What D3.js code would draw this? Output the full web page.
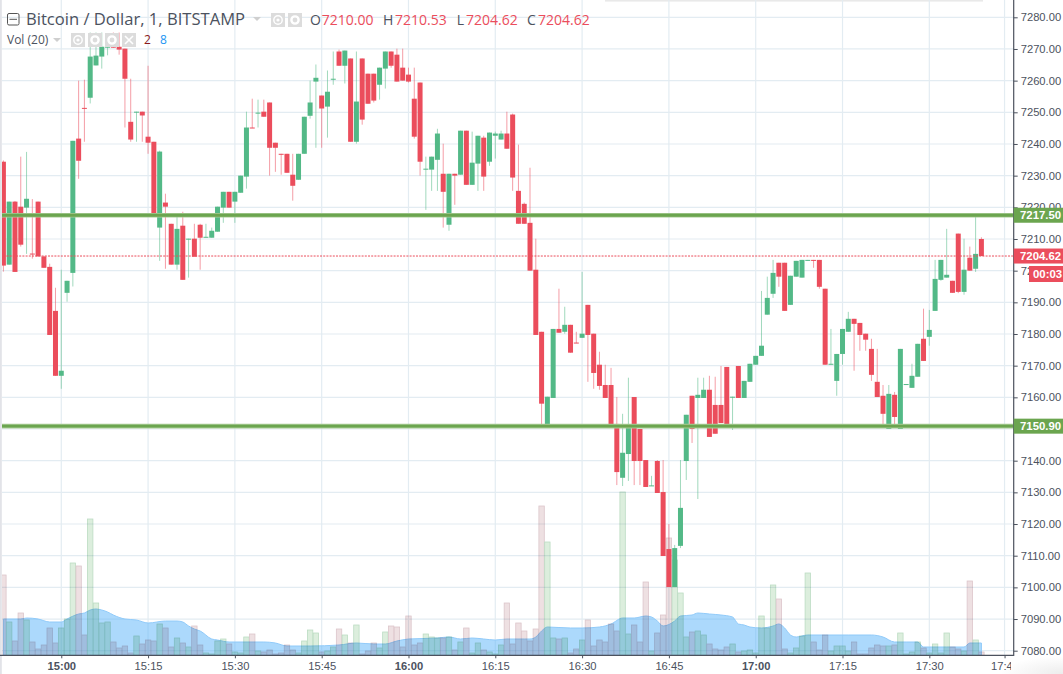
<!DOCTYPE html>
<html><head><meta charset="utf-8">
<script src="https://cdn.jsdelivr.net/npm/d3@7/dist/d3.min.js"></script>
<style>html,body{margin:0;padding:0;background:#fff;overflow:hidden}svg{display:block}</style>
</head><body><svg id="c" width="1063" height="674"></svg>
<script>
const opens=[7234.4,7201.9,7221.8,7220.2,7219.9,7205.4,7221.8,7204.5,7201.2,7187.3,7166.8,7193.0,7199.3,7241.7,7251.4,7254.6,7264.8,7267.6,7270.4,7274.2,
7270.7,7270.1,7247.0,7250.0,7250.2,7242.3,7240.7,7213.6,7221.5,7214.8,7201.9,7214.2,7209.9,7210.1,7214.5,7210.5,7210.4,7212.3,7219.9,7224.9,
7221.8,7224.6,7229.7,7245.2,7249.7,7250.2,7253.1,7240.4,7236.9,7236.9,7230.3,7228.7,7236.9,7248.9,7259.7,7255.3,7251.8,7260.4,7269.2,7264.7,
7267.0,7240.7,7267.0,7262.2,7262.2,7258.7,7263.8,7269.2,7268.2,7264.1,7261.9,7254.3,7259.4,7232.0,7231.9,7235.0,7230.6,7214.5,7230.6,7230.3,
7244.2,7227.1,7233.8,7242.0,7234.4,7242.6,7241.4,7243.3,7249.3,7225.2,7221.1,7215.1,7200.3,7180.7,7151.0,7159.8,7181.6,7180.7,7182.9,7177.3,
7178.8,7189.2,7180.1,7170.3,7163.9,7163.9,7151.6,7134.6,7142.1,7160.1,7150.0,7140.2,7132.0,7139.9,7130.1,7112.1,7100.1,7113.1,7139.9,7160.5,
7159.8,7159.8,7162.4,7157.6,7157.6,7169.6,7160.0,7169.9,7159.8,7164.9,7170.3,7173.1,7186.1,7192.7,7202.5,7202.5,7189.2,7198.1,7197.8,7203.2,
7203.4,7203.4,7194.3,7170.4,7165.2,7173.7,7180.7,7184.8,7183.5,7180.1,7175.3,7164.9,7160.5,7150.0,7160.8,7150.0,7164.0,7163.0,7166.5,7178.5,
7179.1,7187.3,7197.1,7197.8,7196.8,7211.7,7193.3,7204.1,7200.6,7210.0];
const highs=[7234.8,7221.8,7222.0,7236.0,7237.5,7222.6,7221.8,7204.5,7202.2,7194.6,7200.3,7196.8,7241.0,7260.0,7260.3,7275.2,7275.2,7275.2,7273.0,7275.2,
7275.2,7270.1,7260.6,7250.2,7250.2,7264.7,7240.7,7237.9,7224.3,7214.8,7217.3,7218.6,7210.1,7214.8,7214.8,7214.8,7213.6,7220.2,7224.9,7224.9,
7224.9,7230.0,7250.2,7254.3,7254.0,7254.0,7253.1,7240.4,7236.9,7236.9,7236.9,7236.9,7248.6,7260.0,7265.1,7255.3,7263.2,7269.2,7269.8,7269.5,
7267.0,7269.2,7267.0,7262.2,7262.2,7264.1,7269.2,7269.2,7270.1,7270.1,7264.1,7264.1,7259.4,7236.0,7236.0,7244.8,7240.1,7230.6,7230.6,7244.2,
7244.2,7243.9,7242.6,7242.6,7243.6,7243.9,7244.2,7250.2,7249.6,7239.8,7221.5,7232.5,7210.1,7180.7,7160.2,7181.6,7194.3,7188.6,7182.9,7180.7,
7199.6,7189.2,7180.1,7174.4,7170.3,7169.3,7160.1,7154.8,7166.2,7160.1,7150.0,7140.2,7135.2,7140.2,7140.2,7120.0,7113.4,7140.2,7154.5,7160.5,
7166.2,7166.2,7166.8,7166.5,7169.9,7169.6,7160.2,7169.9,7165.2,7170.6,7173.1,7193.6,7198.1,7203.4,7202.5,7202.5,7198.4,7203.1,7203.4,7203.4,
7203.4,7203.4,7194.3,7181.6,7173.7,7181.6,7187.0,7184.8,7183.5,7180.1,7178.5,7175.3,7163.9,7163.9,7161.7,7175.3,7164.2,7170.6,7176.9,7188.0,
7187.6,7203.4,7203.4,7213.2,7196.8,7211.7,7210.1,7207.6,7217.3,7210.53];
const lows=[7199.7,7201.9,7199.6,7207.6,7205.3,7203.8,7204.5,7200.9,7179.7,7166.8,7162.7,7190.2,7195.0,7229.0,7240.7,7252.8,7264.8,7263.8,7268.0,7270.4,
7268.2,7245.2,7240.7,7240.7,7240.7,7236.9,7217.3,7203.1,7200.6,7201.9,7200.3,7197.1,7197.8,7204.4,7200.3,7210.5,7210.4,7212.3,7215.1,7219.9,
7215.1,7224.6,7225.9,7245.0,7245.2,7248.6,7230.0,7231.2,7230.3,7230.9,7222.1,7228.7,7236.9,7248.0,7238.8,7238.8,7242.0,7258.7,7264.7,7259.1,
7240.7,7240.1,7246.1,7252.7,7253.1,7254.0,7257.5,7264.1,7259.7,7260.0,7259.4,7241.7,7230.0,7219.2,7225.2,7225.2,7213.6,7212.6,7220.8,7230.3,
7227.1,7227.1,7225.2,7225.2,7233.1,7235.4,7241.4,7238.5,7225.2,7214.8,7214.8,7200.0,7179.7,7151.3,7151.0,7159.8,7180.4,7180.1,7174.1,7177.1,
7178.8,7164.9,7162.7,7162.4,7159.8,7151.3,7132.3,7132.0,7133.6,7132.3,7132.3,7131.7,7132.0,7129.8,7109.9,7100.1,7100.1,7112.4,7133.9,7145.6,
7127.9,7159.8,7147.5,7148.5,7151.9,7150.4,7149.7,7159.8,7159.8,7164.9,7170.3,7173.1,7186.1,7191.4,7194.9,7187.3,7189.2,7198.1,7197.8,7203.2,
7200.9,7194.3,7170.3,7170.4,7160.5,7170.3,7180.7,7168.4,7174.7,7174.7,7165.2,7160.1,7150.4,7150.0,7150.4,7150.0,7164.0,7163.0,7166.5,7171.5,
7176.3,7187.3,7196.8,7197.8,7193.0,7192.9,7192.4,7200.0,7199.6,7204.62];
const closes=[7201.6,7221.8,7199.6,7208.2,7222.7,7205.2,7204.5,7200.9,7179.7,7166.8,7168.4,7196.8,7241.0,7234.7,7251.2,7267.6,7267.9,7270.7,7273.0,7270.4,
7269.8,7260.6,7241.4,7250.2,7249.0,7240.4,7217.3,7237.6,7220.2,7201.9,7213.2,7197.1,7210.1,7204.4,7210.4,7210.7,7212.6,7220.2,7224.9,7219.9,
7224.9,7230.0,7245.2,7245.0,7249.9,7248.6,7238.8,7238.8,7236.7,7230.9,7226.8,7236.9,7248.6,7253.1,7260.9,7251.2,7256.5,7260.6,7264.7,7269.5,
7240.7,7253.4,7247.7,7252.7,7253.7,7264.1,7269.2,7264.7,7259.7,7260.0,7259.7,7242.3,7234.4,7232.2,7236.0,7243.3,7224.9,7230.6,7230.0,7244.2,
7227.1,7234.1,7242.6,7229.7,7243.6,7243.3,7243.3,7238.5,7229.4,7214.8,7214.8,7200.0,7179.7,7158.0,7160.2,7181.6,7180.4,7182.9,7174.1,7177.1,
7180.1,7179.7,7167.7,7163.6,7159.8,7151.3,7136.4,7142.5,7150.4,7139.9,7139.9,7131.7,7132.2,7129.8,7109.9,7100.1,7112.4,7125.1,7154.5,7150.0,
7160.8,7162.4,7147.5,7148.5,7151.9,7150.4,7160.2,7159.8,7165.2,7170.6,7173.1,7176.3,7191.4,7199.3,7198.1,7187.3,7198.4,7203.1,7203.4,7203.4,
7203.2,7194.9,7170.3,7170.6,7173.7,7181.6,7184.8,7183.2,7179.7,7178.2,7167.1,7160.1,7154.8,7161.1,7153.8,7175.3,7164.2,7166.8,7176.9,7171.5,
7181.3,7197.4,7203.4,7198.7,7193.0,7193.3,7200.3,7200.0,7205.3,7204.62];
const volumes=[80,33,14,42,35,13,6,10,27,12,27,36,92,89,20,136,52,32,33,13,
7,9,2,19,11,15,14,31,27,8,17,12,8,29,10,2,1,14,16,11,
3,2,18,21,4,3,5,1,2,10,5,2,14,25,22,3,4,8,26,20,
12,30,1,4,12,7,23,29,28,8,39,10,12,21,18,17,17,18,5,13,
27,2,12,5,3,1,10,52,11,32,24,14,26,149,113,17,16,17,2,6,
15,35,9,15,13,31,24,163,21,30,13,73,4,22,40,117,95,62,18,23,
24,20,11,6,5,8,11,3,4,5,2,39,27,70,56,6,2,7,19,82,
13,5,20,4,9,9,4,13,1,1,7,10,9,9,10,22,1,3,13,7,
2,11,2,22,8,6,4,74,15,3];
const volumeMaBars=[0,3,4,6,8,10,11,13,14,15,16,17,18,19,21,23,25,28,30,31,32,33,34,36,37,39,45,47,49,53,58,61,64,66,68,70,75,77,79,81,83,85,87,90,91,92,93,94,98,100,103,105,107,109,111,112,113,114,116,117,119,120,122,124,126,127,128,129,131,133,134,135,136,137,139,142,146,150,152,154,156,158,159,163,166,167,169];
const volumeMa=[36,36,37,36,33,33,36,41,42,45,46,45,43,40,36,35,32,34,34,33,29,26,24,16,15,13,13,12,9,9,10,12,11,11,14,16,17,18,16,17,16,15,16,16,16,18,24,28,27,27,28,31,37,37,39,38,34,29,34,39,40,42,41,40,38,31,30,28,27,29,31,27,20,18,20,20,20,20,18,13,13,13,8,8,8,12,12];
const priceTicks=[7080,7090,7100,7110,7120,7130,7140,7150,7160,7170,7180,7190,7200,7210,7220,7230,7240,7250,7260,7270,7280];
const hiddenPriceLabels=[7150];
const timeTickBars=[10,25,40,55,70,85,100,115,130,145,160,173];
const timeTickLabels=["15:00","15:15","15:30","15:45","16:00","16:15","16:30","16:45","17:00","17:15","17:30","17:45"];
const levels=[7217.5,7150.9];
const levelLabels=["7217.50","7150.90"];
const lastPrice=7204.62;
const ohlcNames=["O","H","L","C"];
const ohlcValues=["7210.00","7210.53","7204.62","7204.62"];

const UP="#53b987",DOWN="#eb4d5c",LEVEL="#6ba54f",INK="#4c525e",GRID="#e3ecf2";
const AX=1013.7,AY=655.3;
const svg=d3.select("#c");
const x=d3.scaleLinear().domain([0,169]).range([3.4,981.4]);
const y=d3.scaleLinear().domain([7080,7280]).range([650.7,17.3]);
const v=d3.scaleLinear().domain([0,150]).range([655,505]);
const defs=svg.append("defs");
defs.append("clipPath").attr("id","p").append("rect").attr("x",2).attr("y",0).attr("width",AX-2).attr("height",AY);
const sg=defs.append("radialGradient").attr("id","corner").attr("cx",1).attr("cy",1).attr("r",1);
sg.append("stop").attr("offset",0).attr("stop-color","#ececec");
sg.append("stop").attr("offset",1).attr("stop-color","#ffffff");
svg.append("rect").attr("width",1063).attr("height",674).attr("fill","#fff");
svg.append("rect").attr("x",1000).attr("y",656).attr("width",63).attr("height",18).attr("fill","url(#corner)");
svg.append("rect").attr("x",0).attr("y",0).attr("width",1.8).attr("height",674).attr("fill","#e2e3e8");
svg.append("rect").attr("x",605).attr("y",0).attr("width",378).attr("height",1.6).attr("fill","#e9e9e9");

const plot=svg.append("g").attr("clip-path","url(#p)");
// grid
plot.append("g").selectAll("line").data(priceTicks).join("line")
 .attr("x1",0).attr("x2",AX).attr("y1",d=>y(d)).attr("y2",d=>y(d)).attr("stroke",GRID).attr("stroke-width",1.2);
plot.append("g").selectAll("line").data(timeTickBars).join("line")
 .attr("x1",d=>x(d)).attr("x2",d=>x(d)).attr("y1",0).attr("y2",AY).attr("stroke",GRID).attr("stroke-width",1.2);
// volume MA area
const area=d3.area().x(d=>x(d[0])).y0(AY).y1(d=>v(d[1])).curve(d3.curveMonotoneX);
plot.append("path").datum(d3.zip(volumeMaBars,volumeMa)).attr("d",area)
 .attr("fill","rgba(90,180,250,.5)").attr("stroke","#90caf9").attr("stroke-width",1);
// volume bars
plot.append("g").style("mix-blend-mode","multiply").selectAll("rect").data(volumes).join("rect")
 .attr("x",(d,i)=>x(i)-2.7).attr("width",5.4).attr("y",d=>v(d)).attr("height",d=>AY-v(d))
 .attr("fill",(d,i)=>closes[i]>=opens[i]?"#dceedd":"#eee0e2")
 .attr("stroke",(d,i)=>closes[i]>=opens[i]?"#bcdcc3":"#dcc6cb").attr("stroke-width",.8);
// wicks
plot.append("g").selectAll("line").data(opens).join("line")
 .attr("x1",(d,i)=>x(i)).attr("x2",(d,i)=>x(i)).attr("y1",(d,i)=>y(highs[i])).attr("y2",(d,i)=>y(lows[i]))
 .attr("stroke",(d,i)=>closes[i]>=opens[i]?UP:DOWN).attr("stroke-opacity",.55).attr("stroke-width",1);
// bodies
plot.append("g").selectAll("rect").data(opens).join("rect")
 .attr("x",(d,i)=>x(i)-2.5).attr("width",5)
 .attr("y",(d,i)=>y(Math.max(d,closes[i])))
 .attr("height",(d,i)=>Math.max(1,Math.abs(y(d)-y(closes[i]))))
 .attr("fill",(d,i)=>closes[i]>=opens[i]?UP:DOWN);
// level lines and last price
levels.forEach(l=>{
 plot.append("line").attr("x1",0).attr("x2",AX).attr("y1",y(l)).attr("y2",y(l)).attr("stroke","#a7cb94").attr("stroke-width",4.6);
 plot.append("line").attr("x1",0).attr("x2",AX).attr("y1",y(l)).attr("y2",y(l)).attr("stroke",LEVEL).attr("stroke-width",2.8);
});
plot.append("line").attr("x1",0).attr("x2",AX).attr("y1",y(lastPrice)).attr("y2",y(lastPrice))
 .attr("stroke",DOWN).attr("stroke-width",1).attr("stroke-dasharray","2,1.2");
// axes
const yAxis=d3.axisRight(y).tickValues(priceTicks).tickFormat(d=>hiddenPriceLabels.includes(d)?"":d3.format(".2f")(d)).tickSize(4).tickPadding(3);
const ya=svg.append("g").attr("transform",`translate(${AX},0)`).call(yAxis);
const xAxis=d3.axisBottom(x).tickValues(timeTickBars).tickFormat((d,i)=>timeTickLabels[i]).tickSize(3).tickPadding(4);
defs.append("clipPath").attr("id","xc").append("rect").attr("x",0).attr("y",AY).attr("width",1011).attr("height",30);
const xa=svg.append("g").attr("clip-path","url(#xc)").append("g").attr("transform",`translate(0,${AY})`).call(xAxis);
[ya,xa].forEach(a=>{a.select(".domain").remove();a.selectAll("line").attr("stroke","#4c525e");
 a.selectAll("text").attr("fill",INK).style("font-family","'Liberation Sans',Arial,sans-serif").style("font-size","11.2px");});
xa.selectAll("text").attr("font-weight",(d,i)=>timeTickLabels[i].endsWith(":00")?"bold":"normal");
svg.append("line").attr("x1",AX).attr("x2",AX).attr("y1",0).attr("y2",AY+.6).attr("stroke","#4c525e").attr("stroke-width",1.2);
svg.append("line").attr("x1",0).attr("x2",AX).attr("y1",AY).attr("y2",AY).attr("stroke","#4c525e").attr("stroke-width",1.2);
// price labels
function tag(px,py,w,h,fill,txt,tx){
 svg.append("rect").attr("x",px).attr("y",py).attr("width",w).attr("height",h).attr("fill",fill);
 svg.append("text").attr("x",tx).attr("y",py+h/2+4).attr("fill","#fff").attr("font-size","11.4px").attr("font-weight","bold")
  .attr("font-family","'Liberation Sans',Arial,sans-serif").text(txt);
}
levels.forEach((l,i)=>tag(AX,y(l)-7.5,49.3,15,LEVEL,levelLabels[i],1020));
tag(AX,y(lastPrice)-7.5,49.3,15,DOWN,d3.format(".2f")(lastPrice),1020);
tag(1029,266,34,16,DOWN,"00:03",1033);
// header
const F="'Open Sans',sans-serif";
function txt(tx,ty,s,size,fill){return svg.append("text").attr("x",tx).attr("y",ty).attr("font-family",F).attr("font-size",size).attr("fill",fill).text(s);}
svg.append("rect").attr("x",7.5).attr("y",13.5).attr("width",11.5).attr("height",11.5).attr("rx",1.5).attr("fill","none").attr("stroke","#555").attr("stroke-width",1);
svg.append("line").attr("x1",9.5).attr("x2",17).attr("y1",19.3).attr("y2",19.3).attr("stroke","#555");
txt(26,25,"Bitcoin / Dollar, 1, BITSTAMP","16.6px","#4c525e");
txt(7,44,"Vol (20)","12px","#4c525e");
function caret(cx,cy){svg.append("path").attr("d",d3.line()([[cx-4,cy-2],[cx+4,cy-2],[cx,cy+2]])).attr("fill","#cfcfcf");}
caret(257,19);caret(57,40);
function icon(ix,iy,kind){
 svg.append("rect").attr("x",ix).attr("y",iy).attr("width",14).attr("height",14).attr("fill","#dcdcdc");
 if(kind==="x"){svg.append("path").attr("d",`M${ix+3} ${iy+3}L${ix+11} ${iy+11}M${ix+11} ${iy+3}L${ix+3} ${iy+11}`).attr("stroke","#fff").attr("stroke-width",1.6);}
 else if(kind==="e"){svg.append("circle").attr("cx",ix+7).attr("cy",iy+7).attr("r",4.2).attr("fill","none").attr("stroke","#fff").attr("stroke-width",1.4);
  svg.append("circle").attr("cx",ix+7).attr("cy",iy+7).attr("r",1.6).attr("fill","#fff");}
 else {svg.append("circle").attr("cx",ix+7).attr("cy",iy+7).attr("r",3.6).attr("fill","none").attr("stroke","#fff").attr("stroke-width",2.4);}
}
icon(271,13,"e");icon(288,13,"g");
icon(71,33,"e");icon(88,33,"g");icon(105,33,"g");icon(122,33,"x");
txt(144,44,"2","12px","#8b1a1a");
txt(160,44,"8","12px","#2196f3");
const nameX=[310,383,456.7,527],valX=[321.7,395,466,538];
ohlcNames.forEach((n,i)=>{txt(nameX[i],25,n,"14px","#4c525e");txt(valX[i],25,ohlcValues[i],"14px",DOWN);});
</script></body></html>
